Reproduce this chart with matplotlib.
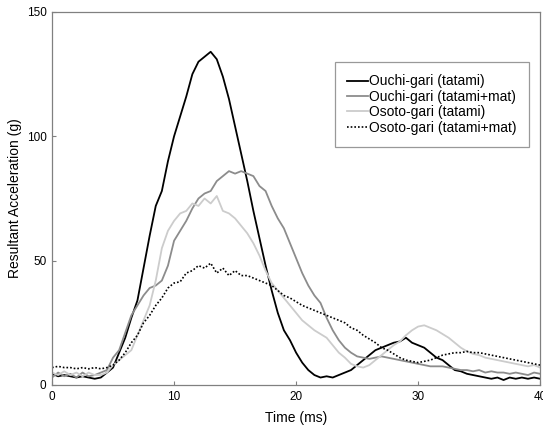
import numpy as np
import matplotlib.pyplot as plt

plt.rcParams['font.family'] = ['Liberation Sans', 'DejaVu Sans']

# time axis (ms), sampled every 0.5 ms
time_ms = np.arange(0, 40.5, 0.5)

ouchi_tatami = [
    4.5, 3.5, 4, 3.5, 3, 3.5, 3, 2.5, 3, 5,
    7, 13, 19, 27, 34, 47, 60, 72, 78, 90,
    100, 108, 116, 125, 130, 132, 134, 131, 124, 115,
    104, 93, 82, 70, 59, 48, 38, 29, 22, 18,
    13, 9, 6, 4, 3, 3.5, 3, 4, 5, 6,
    8, 10, 12, 14, 15, 16, 17, 17.5, 19, 17,
    16, 15, 13, 11, 10, 8, 6, 5.5, 4.5, 4,
    3.5, 3, 2.5, 3, 2, 3, 2.5, 3, 2.5, 3, 2.5,
]

ouchi_mat = [
    3, 5, 3.5, 4.5, 3, 5, 3.5, 4, 5, 6,
    11, 14, 21, 28, 32, 36, 39, 40, 42, 48,
    58, 62, 66, 71, 75, 77, 78, 82, 84, 86,
    85, 86, 85, 84, 80, 78, 72, 67, 63, 57,
    51, 45, 40, 36, 33, 27, 22, 18, 15, 13,
    11.5, 11, 10.5, 11, 11.5, 11, 10.5, 10, 9.5, 9,
    8.5, 8, 7.5, 7.5, 7.5, 7, 6.5, 6, 6, 5.5,
    6, 5, 5.5, 5, 5, 4.5, 5, 4.5, 4, 5, 4.5,
]

osoto_tatami = [
    5, 4, 5.5, 4, 5, 3.5, 5, 4, 4, 5,
    8, 10, 12, 14, 20, 26, 32, 42, 55, 62,
    66, 69, 70, 73, 72, 75, 73, 76, 70, 69,
    67, 64, 61, 57, 52, 46, 41, 38, 35, 32,
    29, 26, 24, 22, 20.5, 19, 16, 13, 11, 8.5,
    7.5, 7, 8, 10, 12, 14, 16, 17.5, 20, 22,
    23.5, 24, 23, 22, 20.5, 19, 17, 15, 13.5, 12.5,
    12, 11, 10.5, 10, 9.5, 9, 8.5, 8, 7.5, 8, 7,
]

osoto_mat = [
    7, 7.5, 7, 7, 6.5, 7, 6.5, 7, 6.5, 7,
    8, 10, 13, 17, 20, 25, 28, 32, 35, 39,
    41, 41.5, 45, 46, 48, 47, 49, 45, 47, 44,
    46, 44, 44, 43, 42, 41, 40, 38, 36, 35,
    33.5, 32, 31, 30, 29, 28, 27, 26, 25, 23,
    22, 20, 18.5, 17, 15, 14, 12.5, 11, 10, 9.5,
    9, 9.5, 10, 11, 12, 12.5, 13, 13, 13.5, 13,
    13, 12.5, 12, 11.5, 11, 10.5, 10, 9.5, 9, 8.5, 8,
]

labels = ["Ouchi-gari (tatami)", "Ouchi-gari (tatami+mat)",
          "Osoto-gari (tatami)", "Osoto-gari (tatami+mat)"]

fig = plt.figure(figsize=(5.43, 4.28), dpi=100)
ax = fig.add_axes([0.0958, 0.1005, 0.899, 0.8715])

ax.plot(time_ms, ouchi_tatami, color="black", lw=1.3, label=labels[0])
ax.plot(time_ms, ouchi_mat, color="#8c8c8c", lw=1.3, label=labels[1])
ax.plot(time_ms, osoto_tatami, color="#cccccc", lw=1.3, label=labels[2])
ax.plot(time_ms, osoto_mat, color="black", lw=1.2, linestyle=(0, (1, 1.2)),
        label=labels[3])

ax.set_xlim(0, 40)
ax.set_ylim(0, 150)
ax.set_xticks([0, 10, 20, 30, 40])
ax.set_yticks([0, 50, 100, 150])
ax.tick_params(direction="in", length=3, width=0.8, color="#808080",
               labelsize=8.5, pad=4)
for sp in ax.spines.values():
    sp.set_color("#808080")
    sp.set_linewidth(0.9)

ax.set_xlabel("Time (ms)", fontsize=10, labelpad=6)
ax.set_ylabel("Resultant Acceleration (g)", fontsize=10, labelpad=3)

leg = ax.legend(loc="upper right", bbox_to_anchor=(0.977, 0.866),
                borderaxespad=0, fontsize=10, frameon=True, fancybox=False,
                edgecolor="#808080", handlelength=1.45, handletextpad=0.1,
                labelspacing=0.1, borderpad=0.9)
leg.get_frame().set_linewidth(0.9)

fig.savefig("out.png", dpi=100)
